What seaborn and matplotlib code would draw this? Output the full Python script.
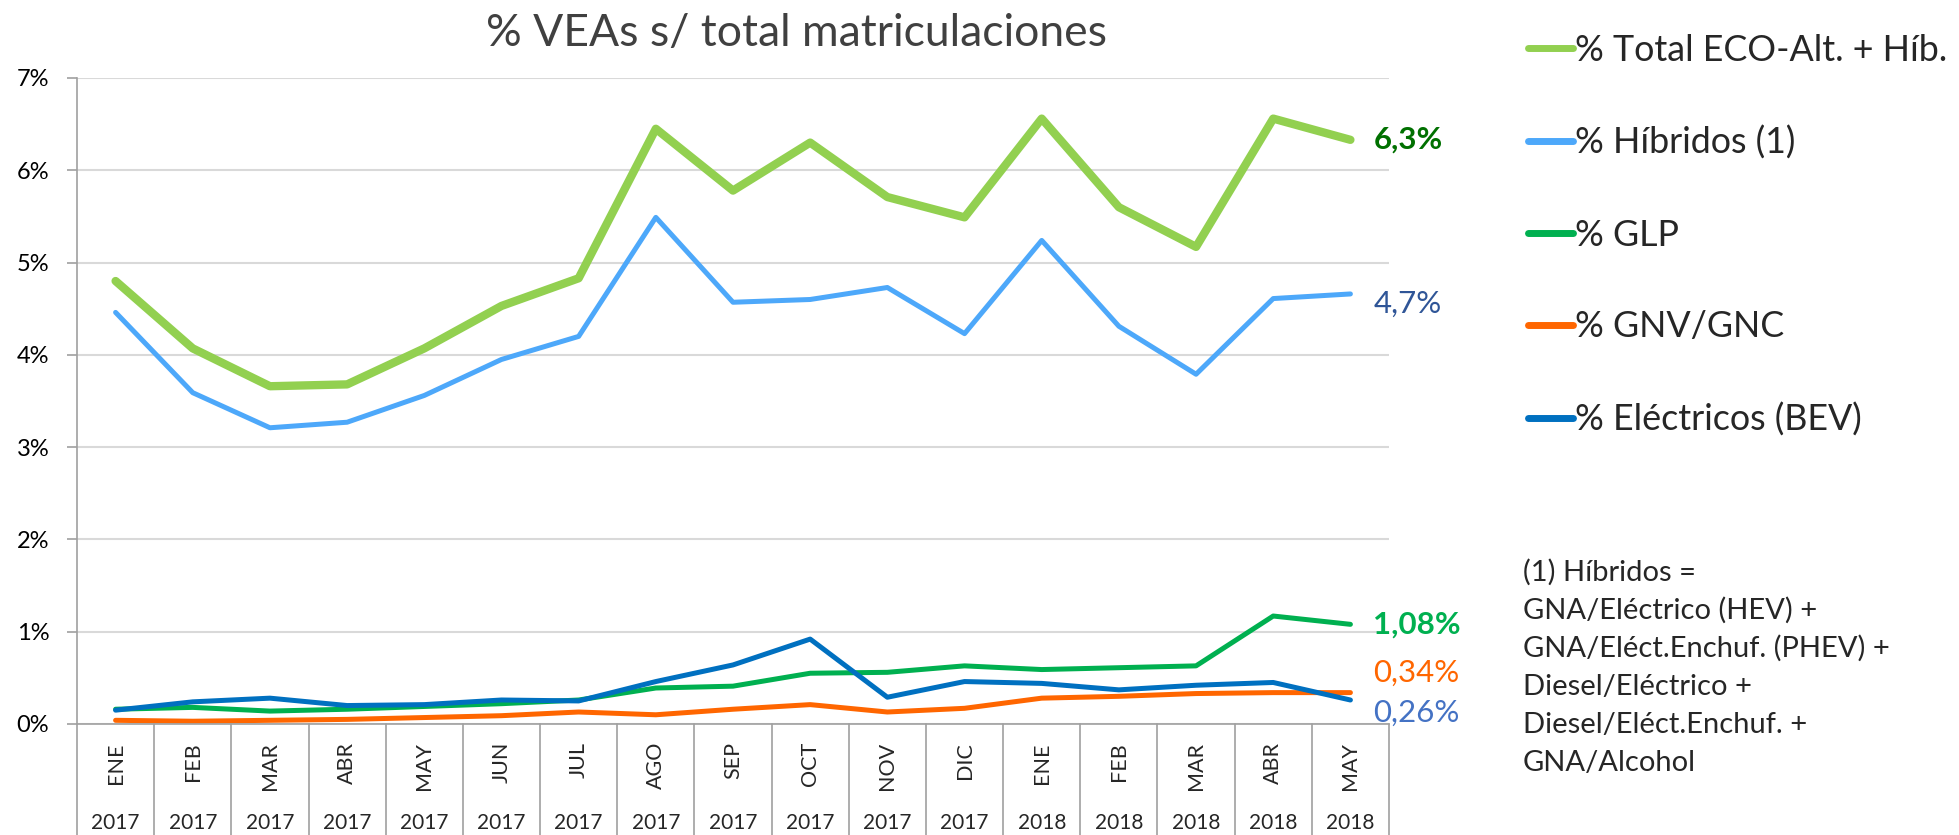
import pandas as pd
import matplotlib
matplotlib.use("Agg")
import matplotlib.pyplot as plt
import seaborn as sns

# Datos (% sobre total matriculaciones)
meses = ["ENE", "FEB", "MAR", "ABR", "MAY", "JUN", "JUL", "AGO", "SEP", "OCT", "NOV", "DIC",
         "ENE", "FEB", "MAR", "ABR", "MAY"]
anios = ["2017"] * 12 + ["2018"] * 5

total_eco = [4.80, 4.07, 3.66, 3.68, 4.07, 4.53, 4.83, 6.45, 5.78, 6.30, 5.71, 5.49,
             6.56, 5.60, 5.17, 6.56, 6.33]
hibridos = [4.46, 3.59, 3.21, 3.27, 3.56, 3.95, 4.20, 5.49, 4.57, 4.60, 4.73, 4.23,
            5.24, 4.31, 3.79, 4.61, 4.66]
glp = [0.16, 0.18, 0.14, 0.16, 0.19, 0.22, 0.26, 0.39, 0.41, 0.55, 0.56, 0.63,
       0.59, 0.61, 0.63, 1.17, 1.08]
gnv = [0.04, 0.03, 0.04, 0.05, 0.07, 0.09, 0.13, 0.10, 0.16, 0.21, 0.13, 0.17,
       0.28, 0.30, 0.33, 0.34, 0.34]
bev = [0.15, 0.24, 0.28, 0.20, 0.21, 0.26, 0.25, 0.46, 0.64, 0.92, 0.29, 0.46,
       0.44, 0.37, 0.42, 0.45, 0.26]

series = {
    "% Total ECO-Alt. + Híb.": total_eco,
    "% Híbridos (1)": hibridos,
    "% GLP": glp,
    "% GNV/GNC": gnv,
    "% Eléctricos (BEV)": bev,
}
colores = {
    "% Total ECO-Alt. + Híb.": "#92D050",
    "% Híbridos (1)": "#4DA8FA",
    "% GLP": "#00B050",
    "% GNV/GNC": "#FF6600",
    "% Eléctricos (BEV)": "#0070C0",
}
grosores = {
    "% Total ECO-Alt. + Híb.": 6.0,
    "% Híbridos (1)": 3.6,
    "% GLP": 3.6,
    "% GNV/GNC": 3.6,
    "% Eléctricos (BEV)": 3.6,
}
# etiqueta final: decimales, color, negrita, desplazamiento vertical (pt)
etiquetas = {
    "% Total ECO-Alt. + Híb.": (1, "#007000", "bold", 0),
    "% Híbridos (1)": (1, "#2F5597", "normal", -7),
    "% GLP": (2, "#00B050", "bold", 0),
    "% GNV/GNC": (2, "#FF6600", "normal", 14),
    "% Eléctricos (BEV)": (2, "#4472C4", "normal", -9),
}

nota = ["(1) Híbridos =", "GNA/Eléctrico (HEV) +", "GNA/Eléct.Enchuf. (PHEV) +",
        "Diesel/Eléctrico +", "Diesel/Eléct.Enchuf. +", "GNA/Alcohol"]

idx = list(range(len(meses)))
df = pd.DataFrame({"idx": idx, **series})
df_long = df.melt(id_vars="idx", var_name="serie", value_name="valor")

sns.set_style("white")
plt.rcParams["font.family"] = ["Lato", "DejaVu Sans"]

W, H = 1959, 835
fig = plt.figure(figsize=(W / 100, H / 100), dpi=100)
ax = fig.add_axes([77 / W, 1 - 724 / H, (1389 - 77) / W, (724 - 78) / H])

for nombre in series:
    sub = df_long[df_long["serie"] == nombre]
    sns.lineplot(data=sub, x="idx", y="valor", ax=ax, color=colores[nombre],
                 linewidth=grosores[nombre], label=nombre,
                 solid_capstyle="round", solid_joinstyle="round")

# etiquetas del último valor
for nombre, (dec, col, peso, dy) in etiquetas.items():
    v = series[nombre][-1]
    txt = f"{v:.{dec}f}".replace(".", ",") + "%"
    ax.annotate(txt, xy=(idx[-1], v), xytext=(16.5, dy), textcoords="offset points",
                va="center", ha="left", color=col, fontweight=peso, fontsize=22.5,
                annotation_clip=False)

ax.set_xlim(-0.5, len(meses) - 0.5)
ax.set_ylim(0, 7)
ax.set_yticks(range(0, 8))
ax.set_yticklabels([f"{i}%" for i in range(0, 8)], fontsize=17, color="#000000")
ax.yaxis.grid(True, color="#D9D9D9", linewidth=1.5)
ax.set_axisbelow(True)
for s in ["top", "right"]:
    ax.spines[s].set_visible(False)
ax.spines["left"].set_color("#A0A0A0")
ax.spines["bottom"].set_color("#A0A0A0")
ax.spines["left"].set_linewidth(1.2)
ax.spines["bottom"].set_linewidth(1.2)
ax.tick_params(axis="y", length=7, width=1.2, color="#A0A0A0", pad=13, left=True)

ax.set_xticks(idx)
ax.set_xticklabels(meses, rotation=90, fontsize=15.5, va="top")
ax.tick_params(axis="x", length=0, pad=13)
ax.set_xlabel("")
ax.set_ylabel("")

# separadores de categorías y años
trans = ax.get_xaxis_transform()
fondo = -(H - 724) / (724 - 78)
for i in range(len(meses) + 1):
    ax.plot([i - 0.5, i - 0.5], [0, fondo], transform=trans, color="#A0A0A0",
            linewidth=1.2, clip_on=False)
for i, a in zip(idx, anios):
    ax.text(i, -(823 - 724) / (724 - 78), a, transform=trans, ha="center", va="center",
            fontsize=15)

ax.get_legend().remove()
handles, labels = ax.get_legend_handles_labels()
leg = fig.legend(handles, labels, loc="upper left", bbox_to_anchor=(1528 / W, 1 - 34 / H),
                 frameon=False, fontsize=25.8, handlelength=1.25, handletextpad=0.05,
                 labelspacing=1.64, borderpad=0, borderaxespad=0)
for h in leg.get_lines():
    h.set_linewidth(5)
    h.set_solid_capstyle("round")

fig.text(796 / W, 1 - 34 / H, "% VEAs s/ total matriculaciones", ha="center", va="center",
         fontsize=32, color="#404040")

for k, linea in enumerate(nota):
    fig.text(1523 / W, 1 - (572 + 38.2 * k) / H, linea, ha="left", va="center", fontsize=21)

fig.savefig("out.png", dpi=100)
